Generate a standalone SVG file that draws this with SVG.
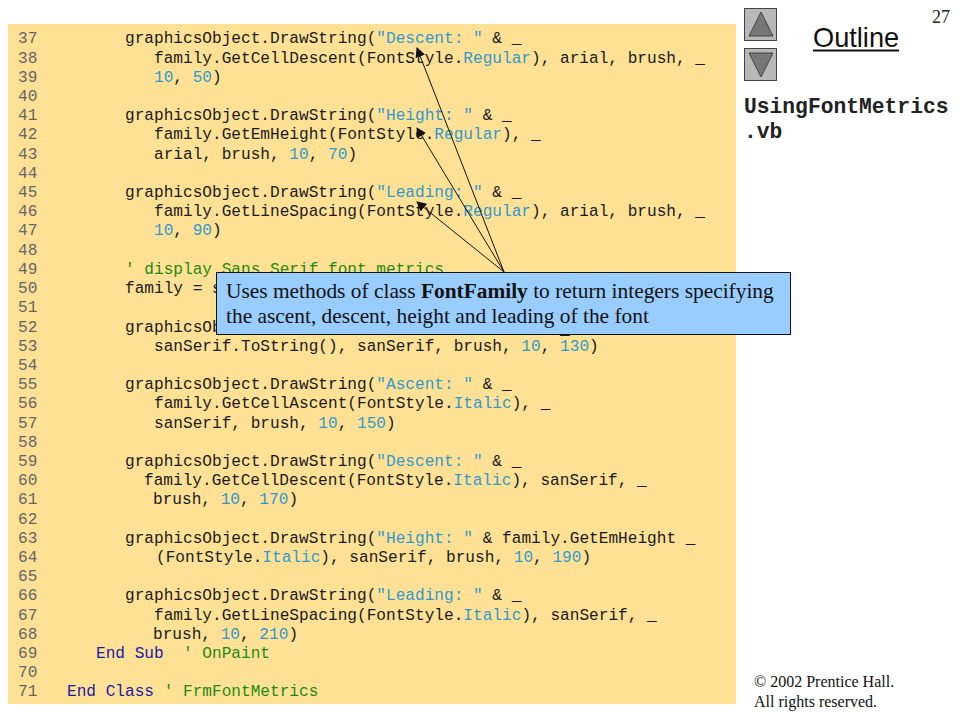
<svg xmlns="http://www.w3.org/2000/svg" width="960" height="720" viewBox="0 0 960 720">
<style>
text{white-space:pre}
.c{font-family:"Liberation Mono",monospace;font-size:16.13px;fill:#1a1a1a}
.n{fill:#666}
.s{fill:#3399cc}
.g{fill:#1f8a10}
.k{fill:#1a1aa6}
.t{font-family:"Liberation Serif",serif}
.btn{fill:#b8b8b8;stroke:#444;stroke-width:1}
.tri{fill:#777;stroke:#444;stroke-width:1}
.arrow{fill:none;stroke:#111;stroke-width:1}
</style>
<defs>
<marker id="ah" viewBox="0 0 10 10" refX="9" refY="5" markerWidth="10" markerHeight="10" markerUnits="userSpaceOnUse" orient="auto"><path d="M0 0L10 5L0 10Z" fill="#111"/></marker>
</defs>
<rect width="960" height="720" fill="#fff"/>
<rect id="panel" x="8" y="24" width="728" height="680" fill="#ffe196"/>
<g id="code" class="c">
<text class="c n" x="18" y="43.3">37</text><text class="c" x="125" y="43.3">graphicsObject.DrawString(<tspan class="s">"Descent: "</tspan> &amp; _</text>
<text class="c n" x="18" y="62.5">38</text><text class="c" x="154" y="62.5">family.GetCellDescent(FontStyle.<tspan class="s">Regular</tspan>), arial, brush, _</text>
<text class="c n" x="18" y="81.7">39</text><text class="c" x="154" y="81.7"><tspan class="s">10</tspan>, <tspan class="s">50</tspan>)</text>
<text class="c n" x="18" y="100.9">40</text>
<text class="c n" x="18" y="120.1">41</text><text class="c" x="125" y="120.1">graphicsObject.DrawString(<tspan class="s">"Height: "</tspan> &amp; _</text>
<text class="c n" x="18" y="139.4">42</text><text class="c" x="154" y="139.4">family.GetEmHeight(FontStyle.<tspan class="s">Regular</tspan>), _</text>
<text class="c n" x="18" y="158.6">43</text><text class="c" x="154" y="158.6">arial, brush, <tspan class="s">10</tspan>, <tspan class="s">70</tspan>)</text>
<text class="c n" x="18" y="177.8">44</text>
<text class="c n" x="18" y="197">45</text><text class="c" x="125" y="197">graphicsObject.DrawString(<tspan class="s">"Leading: "</tspan> &amp; _</text>
<text class="c n" x="18" y="216.2">46</text><text class="c" x="154" y="216.2">family.GetLineSpacing(FontStyle.<tspan class="s">Regular</tspan>), arial, brush, _</text>
<text class="c n" x="18" y="235.4">47</text><text class="c" x="154" y="235.4"><tspan class="s">10</tspan>, <tspan class="s">90</tspan>)</text>
<text class="c n" x="18" y="254.6">48</text>
<text class="c n" x="18" y="273.8">49</text><text class="c g" x="125" y="273.8">' display Sans Serif font metrics</text>
<text class="c n" x="18" y="293">50</text><text class="c" x="125" y="293">family = s</text>
<text class="c n" x="18" y="312.2">51</text>
<text class="c n" x="18" y="331.5">52</text><text class="c" x="125" y="331.5">graphicsOb</text><text class="c" x="560" y="333.5">_</text>
<text class="c n" x="18" y="350.7">53</text><text class="c" x="154" y="350.7">sanSerif.ToString(), sanSerif, brush, <tspan class="s">10</tspan>, <tspan class="s">130</tspan>)</text>
<text class="c n" x="18" y="369.9">54</text>
<text class="c n" x="18" y="389.1">55</text><text class="c" x="125" y="389.1">graphicsObject.DrawString(<tspan class="s">"Ascent: "</tspan> &amp; _</text>
<text class="c n" x="18" y="408.3">56</text><text class="c" x="154" y="408.3">family.GetCellAscent(FontStyle.<tspan class="s">Italic</tspan>), _</text>
<text class="c n" x="18" y="427.5">57</text><text class="c" x="154" y="427.5">sanSerif, brush, <tspan class="s">10</tspan>, <tspan class="s">150</tspan>)</text>
<text class="c n" x="18" y="446.7">58</text>
<text class="c n" x="18" y="465.9">59</text><text class="c" x="125" y="465.9">graphicsObject.DrawString(<tspan class="s">"Descent: "</tspan> &amp; _</text>
<text class="c n" x="18" y="485.1">60</text><text class="c" x="144" y="485.1">family.GetCellDescent(FontStyle.<tspan class="s">Italic</tspan>), sanSerif, _</text>
<text class="c n" x="18" y="504.3">61</text><text class="c" x="153" y="504.3">brush, <tspan class="s">10</tspan>, <tspan class="s">170</tspan>)</text>
<text class="c n" x="18" y="523.6">62</text>
<text class="c n" x="18" y="542.8">63</text><text class="c" x="125" y="542.8">graphicsObject.DrawString(<tspan class="s">"Height: "</tspan> &amp; family.GetEmHeight _</text>
<text class="c n" x="18" y="562">64</text><text class="c" x="156" y="562">(FontStyle.<tspan class="s">Italic</tspan>), sanSerif, brush, <tspan class="s">10</tspan>, <tspan class="s">190</tspan>)</text>
<text class="c n" x="18" y="581.2">65</text>
<text class="c n" x="18" y="600.4">66</text><text class="c" x="125" y="600.4">graphicsObject.DrawString(<tspan class="s">"Leading: "</tspan> &amp; _</text>
<text class="c n" x="18" y="619.6">67</text><text class="c" x="154" y="619.6">family.GetLineSpacing(FontStyle.<tspan class="s">Italic</tspan>), sanSerif, _</text>
<text class="c n" x="18" y="638.8">68</text><text class="c" x="153" y="638.8">brush, <tspan class="s">10</tspan>, <tspan class="s">210</tspan>)</text>
<text class="c n" x="18" y="658">69</text><text class="c" x="96" y="658"><tspan class="k">End Sub</tspan>  <tspan class="g">' OnPaint</tspan></text>
<text class="c n" x="18" y="677.2">70</text>
<text class="c n" x="18" y="696.4">71</text><text class="c" x="67" y="696.4"><tspan class="k">End Class</tspan> <tspan class="g">' FrmFontMetrics</tspan></text>
</g>
<g id="connectors">
<line class="arrow" x1="504" y1="272" x2="417" y2="48" marker-end="url(#ah)"/>
<line class="arrow" x1="504" y1="272" x2="417" y2="128" marker-end="url(#ah)"/>
<line class="arrow" x1="504" y1="272" x2="417" y2="202" marker-end="url(#ah)"/>
</g>
<g id="callout">
<rect x="216.5" y="272.5" width="574" height="62" fill="#99ccff" stroke="#111" stroke-width="1"/>
<text class="t" x="226" y="298" font-size="21.4" fill="#111">Uses methods of class <tspan font-weight="bold">FontFamily</tspan> to return integers specifying</text>
<text class="t" x="226" y="323" font-size="21.4" fill="#111">the ascent, descent, height and leading of the font</text>
</g>
<g id="btn-up">
<rect class="btn" x="744.5" y="8.5" width="32" height="32"/>
<path class="tri" d="M761 12L773 36H749Z"/>
</g>
<g id="btn-down">
<rect class="btn" x="744.5" y="48.5" width="32" height="32"/>
<path class="tri" d="M749 53H773L761 77Z"/>
</g>
<g id="outline-title">
<text x="813" y="47" font-family="'Liberation Sans',sans-serif" font-size="27.2" fill="#111">Outline</text>
<rect x="813" y="49.5" width="86" height="2" fill="#111"/>
</g>
<text id="page" class="t" x="932" y="23" font-size="18" fill="#222">27</text>
<g id="file" font-family="'Liberation Mono',monospace" font-weight="bold" font-size="21.3" fill="#222">
<text x="744" y="113">UsingFontMetrics</text>
<text x="744" y="138">.vb</text>
</g>
<g id="copyright" class="t" font-size="16" fill="#111">
<text class="t" x="754" y="687">© 2002 Prentice Hall.</text>
<text class="t" x="754" y="707">All rights reserved.</text>
</g>
</svg>
